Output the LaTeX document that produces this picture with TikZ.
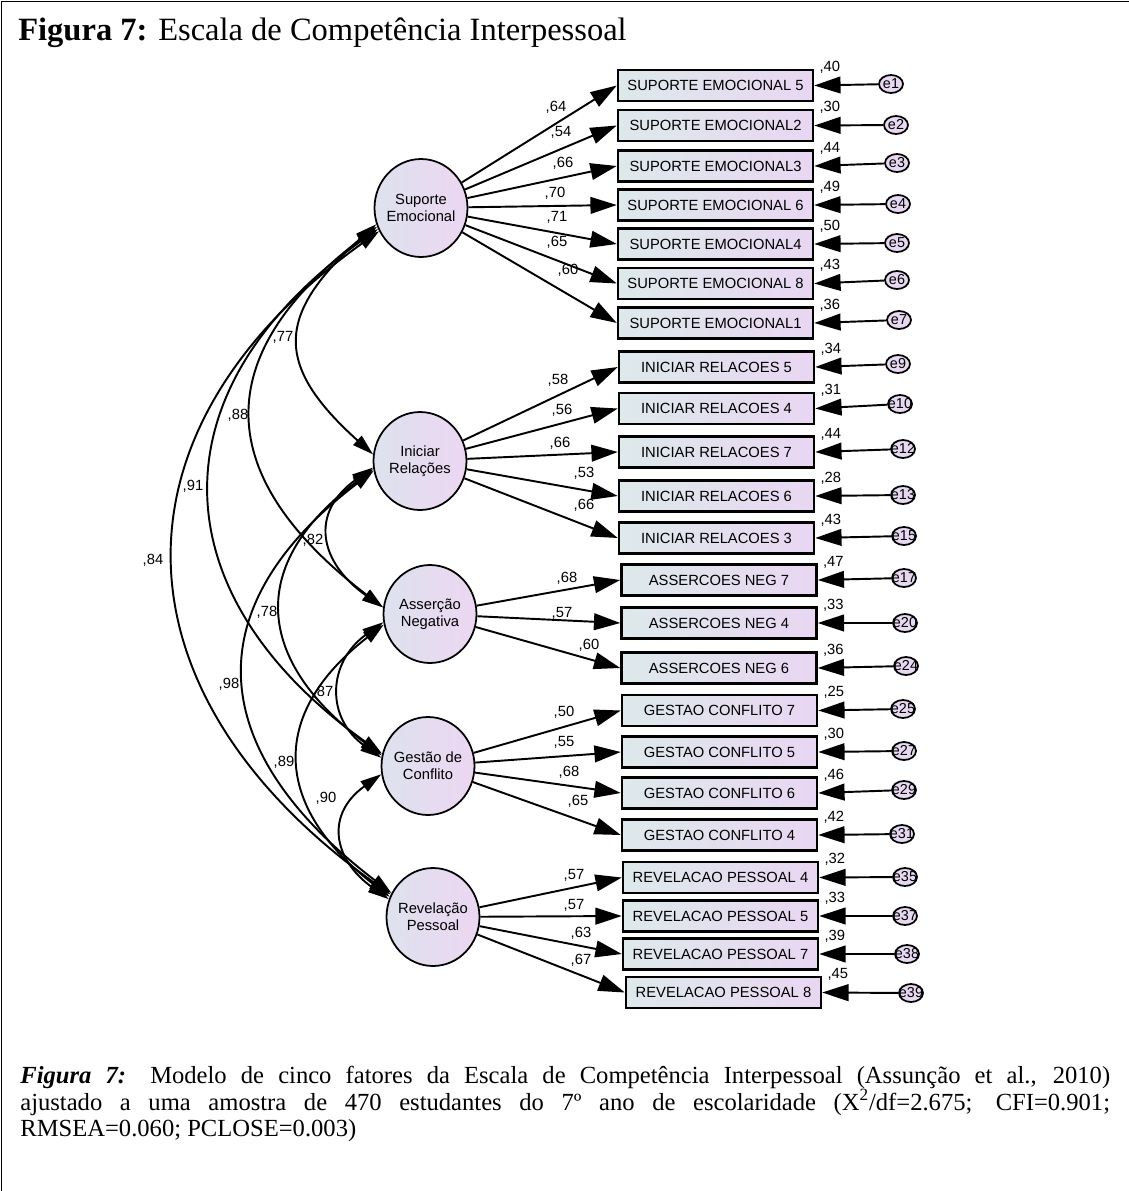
\documentclass[tikz,border=0pt]{standalone}
\usepackage{fontspec}
\setmainfont{Liberation Serif}
\newfontfamily\diagfont{Liberation Sans}
\usetikzlibrary{arrows.meta,shapes.geometric,calc}

\definecolor{boxl}{RGB}{221,233,235}
\definecolor{boxr}{RGB}{233,214,242}
\definecolor{latl}{RGB}{222,226,238}
\definecolor{latr}{RGB}{236,214,242}
\definecolor{errf}{RGB}{230,216,240}

\tikzset{
	latent/.style={ellipse, draw, line width=1pt, minimum width=1.86cm, minimum height=1.96cm,
		inner xsep=-2pt, inner ysep=0pt, left color=latl, right color=latr, align=center,
		font=\diagfont\fontsize{8.4}{9.5}\selectfont},
	item/.style={rectangle, draw, line width=1.4pt, minimum width=3.9cm, minimum height=0.62cm,
		inner sep=0pt, left color=boxl, right color=boxr, font=\diagfont\fontsize{8.4}{10}\selectfont},
	err/.style={ellipse, draw, line width=1pt, minimum width=0.48cm, minimum height=0.36cm,
		inner sep=0pt, fill=errf, font=\diagfont\fontsize{8.2}{9}\selectfont},
	coef/.style={inner sep=0pt, font=\diagfont\fontsize{8.4}{10}\selectfont},
	load/.style={-{Triangle[length=15pt,width=9.5pt]}, line width=1.1pt},
	cov/.style={{Triangle[length=12pt,width=7pt]}-{Triangle[length=12pt,width=7pt]}, line width=1.1pt}
}

\begin{document}
\begin{tikzpicture}[x=0.02cm, y=-0.02cm]
	\useasboundingbox (0,0) rectangle (1129,1191);
	\draw[line width=0.8pt] (1129,1.5) -- (1.5,1.5) -- (1.5,1191);
	
	\node[anchor=base west, inner sep=0pt, font=\fontsize{18.5}{20}\selectfont] (title) at (18,40)
		{\textbf{Figura 7:} Escala de Competência Interpessoal};
	
	% factores
	\node[latent] (se) at (421,208) {Suporte\\Emocional};
	\node[latent] (ir) at (420,461) {Iniciar\\Relações};
	\node[latent] (an) at (430,614) {Asserção\\Negativa};
	\node[latent] (gc) at (428,766) {Gestão de\\Conflito};
	\node[latent] (rp) at (433,917) {Revelação\\Pessoal};
	
	% itens
	\node[item] (s5) at (715.5,85.5)  {SUPORTE EMOCIONAL 5};
	\node[item] (s2) at (715.5,125.5) {SUPORTE EMOCIONAL2};
	\node[item] (s3) at (715.5,166)   {SUPORTE EMOCIONAL3};
	\node[item] (s6) at (715.5,205)   {SUPORTE EMOCIONAL 6};
	\node[item] (s4) at (715.5,244)   {SUPORTE EMOCIONAL4};
	\node[item] (s8) at (715.5,283.5) {SUPORTE EMOCIONAL 8};
	\node[item] (s1) at (715.5,323)   {SUPORTE EMOCIONAL1};
	\node[item] (i5) at (716.5,367)   {INICIAR RELACOES 5};
	\node[item] (i4) at (716.5,408.5) {INICIAR RELACOES 4};
	\node[item] (i7) at (716.5,452)   {INICIAR RELACOES 7};
	\node[item] (i6) at (716.5,496)   {INICIAR RELACOES 6};
	\node[item] (i3) at (716.5,538)   {INICIAR RELACOES 3};
	\node[item] (a7) at (719,580)     {ASSERCOES NEG 7};
	\node[item] (a4) at (719,623)     {ASSERCOES NEG 4};
	\node[item] (a6) at (719,668)     {ASSERCOES NEG 6};
	\node[item] (g7) at (719.5,710.5) {GESTAO CONFLITO 7};
	\node[item] (g5) at (719.5,752)   {GESTAO CONFLITO 5};
	\node[item] (g6) at (719.5,793)   {GESTAO CONFLITO 6};
	\node[item] (g4) at (719.5,835)   {GESTAO CONFLITO 4};
	\node[item] (r4) at (720.5,877.5) {REVELACAO PESSOAL 4};
	\node[item] (r5) at (720.5,916)   {REVELACAO PESSOAL 5};
	\node[item] (r7) at (720.5,954)   {REVELACAO PESSOAL 7};
	\node[item] (r8) at (723.5,992.5) {REVELACAO PESSOAL 8};
	
	% erros
	\node[err] (e1)  at (891,84)  {\makebox[0pt]{e1}};
	\node[err] (e2)  at (896,125) {\makebox[0pt]{e2}};
	\node[err] (e3)  at (897,163) {\makebox[0pt]{e3}};
	\node[err] (e4)  at (898,204) {\makebox[0pt]{e4}};
	\node[err] (e5)  at (897,243) {\makebox[0pt]{e5}};
	\node[err] (e6)  at (897,280) {\makebox[0pt]{e6}};
	\node[err] (e7)  at (899,320) {\makebox[0pt]{e7}};
	\node[err] (e9)  at (898,364) {\makebox[0pt]{e9}};
	\node[err] (e10) at (900,404) {\makebox[0pt]{e10}};
	\node[err] (e12) at (903,449) {\makebox[0pt]{e12}};
	\node[err] (e13) at (903,495) {\makebox[0pt]{e13}};
	\node[err] (e15) at (904,536) {\makebox[0pt]{e15}};
	\node[err] (e17) at (904,578) {\makebox[0pt]{e17}};
	\node[err] (e20) at (905,623) {\makebox[0pt]{e20}};
	\node[err] (e24) at (906,666) {\makebox[0pt]{e24}};
	\node[err] (e25) at (903,709) {\makebox[0pt]{e25}};
	\node[err] (e27) at (904,751) {\makebox[0pt]{e27}};
	\node[err] (e29) at (904,790) {\makebox[0pt]{e29}};
	\node[err] (e31) at (902,834) {\makebox[0pt]{e31}};
	\node[err] (e35) at (905,877) {\makebox[0pt]{e35}};
	\node[err] (e37) at (905,916) {\makebox[0pt]{e37}};
	\node[err] (e38) at (907,954) {\makebox[0pt]{e38}};
	\node[err] (e39) at (911,993) {\makebox[0pt]{e39}};
	
	% cargas
	\path[load] (se) edge (s5.west);
	\path[load] (se) edge (s2.west);
	\path[load] (se) edge (s3.west);
	\path[load] (se) edge (s6.west);
	\path[load] (se) edge (s4.west);
	\path[load] (se) edge (s8.west);
	\path[load] (se) edge (s1.west);
	\path[load] (ir) edge (i5.west);
	\path[load] (ir) edge (i4.west);
	\path[load] (ir) edge (i7.west);
	\path[load] (ir) edge (i6.west);
	\path[load] (ir) edge (i3.west);
	\path[load] (an) edge (a7.west);
	\path[load] (an) edge (a4.west);
	\path[load] (an) edge (a6.west);
	\path[load] (gc) edge (g7.west);
	\path[load] (gc) edge (g5.west);
	\path[load] (gc) edge (g6.west);
	\path[load] (gc) edge (g4.west);
	\path[load] (rp) edge (r4.west);
	\path[load] (rp) edge (r5.west);
	\path[load] (rp) edge (r7.west);
	\path[load] (rp) edge (r8.west);
	
	\node[coef] (p1)  at (556,107) {,64};
	\node[coef] (p2)  at (561,132) {,54};
	\node[coef] (p3)  at (563,163) {,66};
	\node[coef] (p4)  at (555,193) {,70};
	\node[coef] (p5)  at (557,217) {,71};
	\node[coef] (p6)  at (557,242) {,65};
	\node[coef] (p7)  at (568,270) {,60};
	\node[coef] (p8)  at (558,380) {,58};
	\node[coef] (p9)  at (562,410) {,56};
	\node[coef] (p10) at (560,443) {,66};
	\node[coef] (p11) at (584,473) {,53};
	\node[coef] (p12) at (584,505) {,66};
	\node[coef] (p13) at (567,578) {,68};
	\node[coef] (p14) at (562,613) {,57};
	\node[coef] (p15) at (589,645) {,60};
	\node[coef] (p16) at (564,712) {,50};
	\node[coef] (p17) at (564,742) {,55};
	\node[coef] (p18) at (569,772) {,68};
	\node[coef] (p19) at (578,801) {,65};
	\node[coef] (p20) at (574,875) {,57};
	\node[coef] (p21) at (574,905) {,57};
	\node[coef] (p22) at (581,933) {,63};
	\node[coef] (p23) at (581,960) {,67};
	
	% residuos
	\path[load] (e1)  edge (s5.east);
	\path[load] (e2)  edge (s2.east);
	\path[load] (e3)  edge (s3.east);
	\path[load] (e4)  edge (s6.east);
	\path[load] (e5)  edge (s4.east);
	\path[load] (e6)  edge (s8.east);
	\path[load] (e7)  edge (s1.east);
	\path[load] (e9)  edge (i5.east);
	\path[load] (e10) edge (i4.east);
	\path[load] (e12) edge (i7.east);
	\path[load] (e13) edge (i6.east);
	\path[load] (e15) edge (i3.east);
	\path[load] (e17) edge (a7.east);
	\path[load] (e20) edge (a4.east);
	\path[load] (e24) edge (a6.east);
	\path[load] (e25) edge (g7.east);
	\path[load] (e27) edge (g5.east);
	\path[load] (e29) edge (g6.east);
	\path[load] (e31) edge (g4.east);
	\path[load] (e35) edge (r4.east);
	\path[load] (e37) edge (r5.east);
	\path[load] (e38) edge (r7.east);
	\path[load] (e39) edge (r8.east);
	
	\node[coef, anchor=base west] (q1)  at ($(s5.north east)+(5,3)$) {,40};
	\node[coef, anchor=base west] (q2)  at ($(s2.north east)+(5,3)$) {,30};
	\node[coef, anchor=base west] (q3)  at ($(s3.north east)+(5,3)$) {,44};
	\node[coef, anchor=base west] (q4)  at ($(s6.north east)+(5,3)$) {,49};
	\node[coef, anchor=base west] (q5)  at ($(s4.north east)+(5,3)$) {,50};
	\node[coef, anchor=base west] (q6)  at ($(s8.north east)+(5,3)$) {,43};
	\node[coef, anchor=base west] (q7)  at ($(s1.north east)+(5,3)$) {,36};
	\node[coef, anchor=base west] (q8)  at ($(i5.north east)+(5,3)$) {,34};
	\node[coef, anchor=base west] (q9)  at ($(i4.north east)+(5,3)$) {,31};
	\node[coef, anchor=base west] (q10) at ($(i7.north east)+(5,3)$) {,44};
	\node[coef, anchor=base west] (q11) at ($(i6.north east)+(5,3)$) {,28};
	\node[coef, anchor=base west] (q12) at ($(i3.north east)+(5,3)$) {,43};
	\node[coef, anchor=base west] (q13) at ($(a7.north east)+(5,3)$) {,47};
	\node[coef, anchor=base west] (q14) at ($(a4.north east)+(5,3)$) {,33};
	\node[coef, anchor=base west] (q15) at ($(a6.north east)+(5,3)$) {,36};
	\node[coef, anchor=base west] (q16) at ($(g7.north east)+(5,3)$) {,25};
	\node[coef, anchor=base west] (q17) at ($(g5.north east)+(5,3)$) {,30};
	\node[coef, anchor=base west] (q18) at ($(g6.north east)+(5,3)$) {,46};
	\node[coef, anchor=base west] (q19) at ($(g4.north east)+(5,3)$) {,42};
	\node[coef, anchor=base west] (q20) at ($(r4.north east)+(5,3)$) {,32};
	\node[coef, anchor=base west] (q21) at ($(r5.north east)+(5,3)$) {,33};
	\node[coef, anchor=base west] (q22) at ($(r7.north east)+(5,3)$) {,39};
	\node[coef, anchor=base west] (q23) at ($(r8.north east)+(5,3)$) {,45};
	
	% covariancias
	\draw[cov] (se.200) .. controls +(-100,90) and +(-100,-90) .. (ir.172);
	\draw[cov] (se.203) .. controls +(-170,130) and +(-170,-130) .. (an.172);
	\draw[cov] (se.206) .. controls +(-225,160) and +(-225,-160) .. (gc.165);
	\draw[cov] (se.209) .. controls +(-280,200) and +(-280,-200) .. (rp.152);
	\draw[cov] (ir.188) .. controls +(-64,45) and +(-64,-45) .. (an.172);
	\draw[cov] (ir.190) .. controls +(-127,95) and +(-127,-95) .. (gc.167);
	\draw[cov] (ir.192) .. controls +(-183,140) and +(-183,-140) .. (rp.150);
	\draw[cov] (an.190) .. controls +(-56,40) and +(-56,-40) .. (gc.170);
	\draw[cov] (an.193) .. controls +(-116,90) and +(-116,-90) .. (rp.155);
	\draw[cov] (gc.190) .. controls +(-56,40) and +(-56,-40) .. (rp.158);
	
	\node[coef] (c1)  at (283,337) {,77};
	\node[coef] (c2)  at (238,415) {,88};
	\node[coef] (c3)  at (193,486) {,91};
	\node[coef] (c4)  at (153,560) {,84};
	\node[coef] (c5)  at (313,540) {,82};
	\node[coef] (c6)  at (267,612) {,78};
	\node[coef] (c7)  at (229,684) {,98};
	\node[coef] (c8)  at (323,692) {,87};
	\node[coef] (c9)  at (284,762) {,89};
	\node[coef] (c10) at (326,798) {,90};
	
	\node[anchor=north west, text width=21.8cm, align=justify, inner sep=0pt,
		font=\fontsize{14}{15}\selectfont] (caption) at (20,1066)
		{\textbf{\textit{Figura 7:}} Modelo de cinco fatores da Escala de Competência Interpessoal (Assunção et al., 2010)\linebreak
		ajustado a uma amostra de 470 estudantes do 7º ano de escolaridade (X\textsuperscript{2}/df=2.675; CFI=0.901;\linebreak
		RMSEA=0.060; PCLOSE=0.003)};
	
\end{tikzpicture}
\end{document}
